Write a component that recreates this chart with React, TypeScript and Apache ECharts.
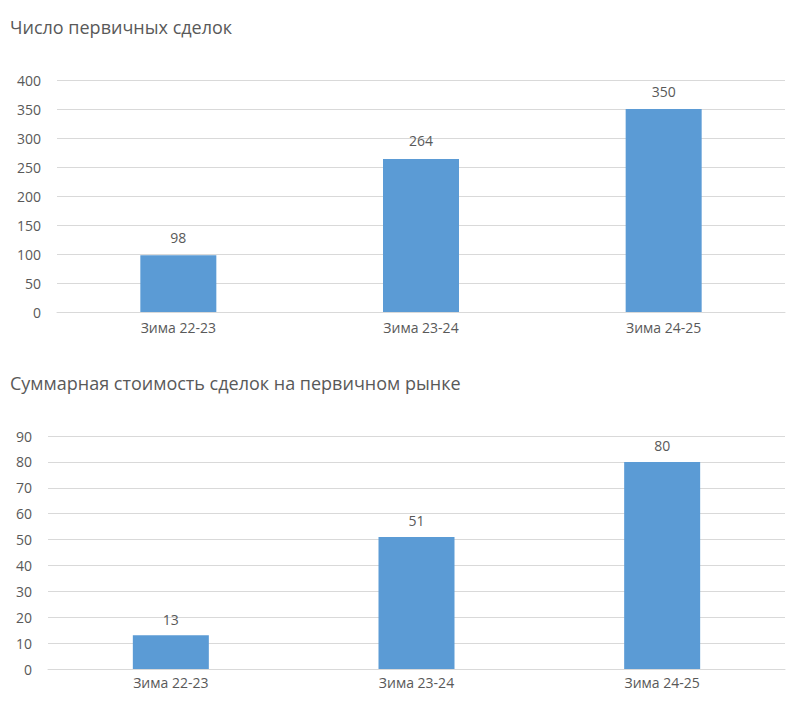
import React, { useEffect, useRef } from "react";
import * as echarts from "echarts";

const categories = ["Зима 22-23", "Зима 23-24", "Зима 24-25"];
const dealsCount = [98, 264, 350];
const dealsValue = [13, 51, 80];
const titleTop = "Число первичных сделок";
const titleBottom = "Суммарная стоимость сделок на первичном рынке";

const FONT = "'Open Sans', 'Noto Sans', sans-serif";
const GREY = "#595959";
const GRID = "#d9d9d9";
const BAR = "#5b9bd5";

export default function App() {
  const ref = useRef<HTMLDivElement>(null);
  useEffect(() => {
    if (!ref.current) return;
    const chart = echarts.init(ref.current, undefined, { renderer: "svg" });
    const xAxisBase = (gridIndex: number, margin: number) => ({
      type: "category" as const,
      gridIndex,
      data: categories,
      axisLine: { lineStyle: { color: GRID, width: 1 } },
      axisTick: { show: false },
      axisLabel: { color: GREY, fontSize: 14, fontFamily: FONT, margin },
    });
    const yAxisBase = (gridIndex: number, max: number, interval: number) => ({
      type: "value" as const,
      gridIndex,
      min: 0,
      max,
      interval,
      axisLine: { show: false },
      axisTick: { show: false },
      splitLine: { lineStyle: { color: GRID, width: 1 } },
      axisLabel: { color: GREY, fontSize: 14, fontFamily: FONT, margin: 16 },
    });
    const seriesBase = (idx: number, data: number[], distance: number) => ({
      type: "bar" as const,
      xAxisIndex: idx,
      yAxisIndex: idx,
      data,
      barWidth: 76,
      itemStyle: { color: BAR },
      label: {
        show: true,
        position: "top" as const,
        distance,
        color: GREY,
        fontSize: 14,
        fontFamily: FONT,
      },
    });
    chart.setOption({
      animation: false,
      backgroundColor: "#ffffff",
      title: [
        {
          text: titleTop,
          left: 5,
          top: 13,
          textStyle: { color: GREY, fontSize: 18, fontWeight: "normal", fontFamily: FONT },
        },
        {
          text: titleBottom,
          left: 5,
          top: 369,
          textStyle: { color: GREY, fontSize: 18, fontWeight: "normal", fontFamily: FONT },
        },
      ],
      grid: [
        { left: 57, right: 15, top: 80, height: 232 },
        { left: 48, right: 15, top: 436, height: 233 },
      ],
      xAxis: [xAxisBase(0, 8), xAxisBase(1, 6)],
      yAxis: [yAxisBase(0, 400, 50), yAxisBase(1, 90, 10)],
      series: [seriesBase(0, dealsCount, 11), seriesBase(1, dealsValue, 9)],
    });
    return () => chart.dispose();
  }, []);
  return (
    <div
      ref={ref}
      style={{ position: "fixed", left: 0, top: 0, width: 800, height: 719, background: "#fff" }}
    />
  );
}
